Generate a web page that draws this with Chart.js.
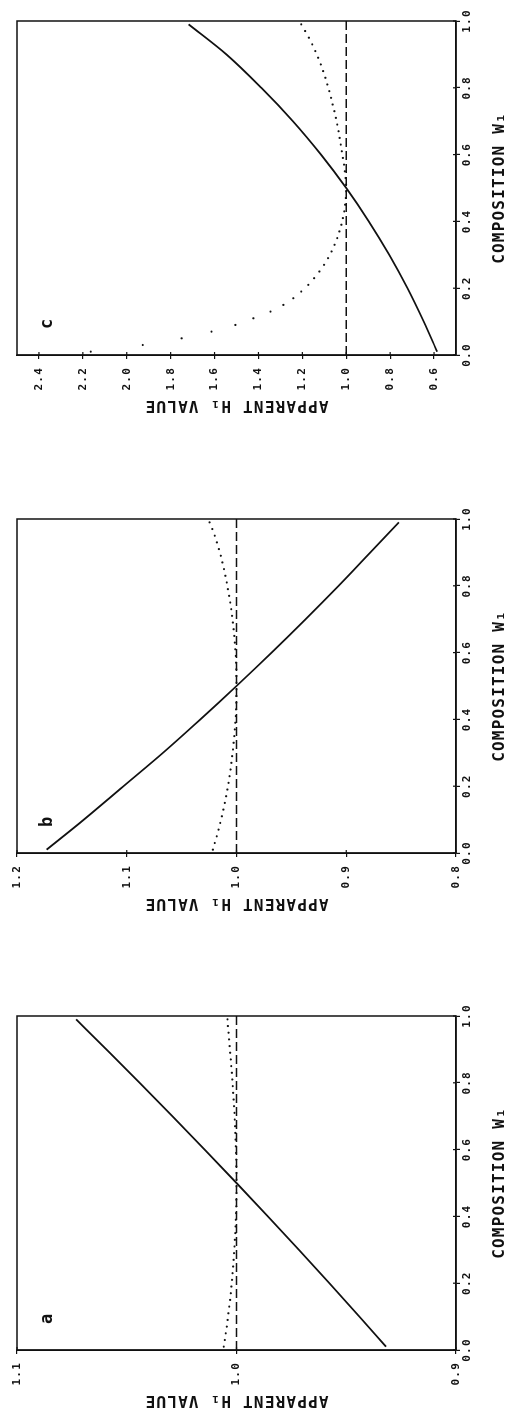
<!DOCTYPE html>
<html>
<head>
<meta charset="utf-8">
<script src="https://cdn.jsdelivr.net/npm/chart.js@4.4.1/dist/chart.umd.min.js"></script>
<style>
html,body{margin:0;padding:0;background:#fff;}
body{width:514px;height:1416px;position:relative;overflow:hidden;}
/* the figure is drawn landscape and turned a quarter left, like the scan */
#sheet{position:absolute;left:0;top:0;width:1416px;height:514px;transform-origin:0 0;transform:translateY(1416px) rotate(-90deg);}
.panel{position:absolute;top:0;width:416px;height:514px;}
</style>
</head>
<body>
<div id="sheet">
  <div class="panel" style="left:0px"><canvas id="chartA" width="416" height="514"></canvas></div>
  <div class="panel" style="left:497px"><canvas id="chartB" width="416" height="514"></canvas></div>
  <div class="panel" style="left:995px"><canvas id="chartC" width="416" height="514"></canvas></div>
</div>
<script>
// composition axis
const compTicks=[0,0.2,0.4,0.6,0.8,1.0];
const compSolid=[0.01,0.1,0.2,0.3,0.4,0.5,0.6,0.7,0.8,0.9,0.99];
const compDots=[0.01,0.03,0.05,0.07,0.09,0.11,0.13,0.15,0.17,0.19,0.21,0.23,0.25,0.27,0.29,0.31,0.33,0.35,0.37,0.39,0.41,0.43,0.45,0.47,0.49,
  0.51,0.53,0.55,0.57,0.59,0.61,0.63,0.65,0.67,0.69,0.71,0.73,0.75,0.77,0.79,0.81,0.83,0.85,0.87,0.89,0.91,0.93,0.95,0.97,0.99];
const compDash=[0,1];
const trueH=[1.0,1.0];

// panel a
const ticksA=[0.9,1.0,1.1];
const solidA=[0.9319,0.9440,0.9577,0.9716,0.9857,1.0000,1.0145,1.0292,1.0441,1.0593,1.0731];
const dotsA=[1.0058,1.0053,1.0049,1.0044,1.0040,1.0037,1.0033,1.0029,1.0026,1.0023,1.0020,1.0018,1.0015,1.0013,1.0011,1.0009,1.0007,1.0005,1.0004,1.0003,1.0002,1.0001,1.0001,1.0000,1.0000,
  1.0000,1.0000,1.0001,1.0001,1.0002,1.0003,1.0004,1.0005,1.0006,1.0008,1.0009,1.0011,1.0013,1.0015,1.0017,1.0019,1.0021,1.0024,1.0026,1.0029,1.0031,1.0034,1.0036,1.0039,1.0041];

// panel b
const ticksB=[0.8,0.9,1.0,1.1,1.2];
const solidB=[1.173,1.139,1.103,1.067,1.033,1.000,0.968,0.937,0.907,0.878,0.852];
const dotsB=[1.0215,1.0198,1.0180,1.0163,1.0148,1.0133,1.0119,1.0106,1.0094,1.0083,1.0072,1.0063,1.0054,1.0046,1.0039,1.0032,1.0026,1.0020,1.0015,1.0011,1.0007,1.0004,1.0002,1.0001,1.0000,
  1.0000,1.0001,1.0002,1.0004,1.0007,1.0011,1.0015,1.0020,1.0026,1.0033,1.0040,1.0048,1.0057,1.0067,1.0078,1.0089,1.0101,1.0114,1.0128,1.0143,1.0160,1.0178,1.0198,1.0220,1.0245];

// panel c
const ticksC=[0.6,0.8,1.0,1.2,1.4,1.6,1.8,2.0,2.2,2.4];
const solidC=[0.586,0.647,0.721,0.804,0.897,1.000,1.115,1.243,1.387,1.546,1.718];
const dotsC=[2.164,1.927,1.750,1.614,1.505,1.423,1.345,1.286,1.241,1.205,1.173,1.146,1.122,1.101,1.083,1.067,1.053,1.041,1.031,1.022,1.015,1.009,1.005,1.002,1.000,
  1.001,1.003,1.006,1.010,1.015,1.020,1.025,1.030,1.035,1.041,1.047,1.054,1.062,1.069,1.077,1.086,1.095,1.105,1.116,1.128,1.141,1.155,1.170,1.187,1.205];

const ink='#111';
const mono='"DejaVu Sans Mono", "Liberation Mono", monospace';

function pts(xs,ys){ return xs.map((x,i)=>({x:x,y:ys[i]})); }

// closed box plus small inward tick marks
const framePlugin={
  id:'frame',
  beforeDraw(chart){ chart.ctx.letterSpacing='1.2px'; },
  afterDraw(chart){
    const {ctx,chartArea:a,scales}=chart;
    ctx.save();
    ctx.strokeStyle=ink; ctx.lineWidth=1.5;
    ctx.strokeRect(a.left,a.top,a.right-a.left,a.bottom-a.top);
    ctx.lineWidth=1.2;
    scales.x.ticks.forEach(t=>{ const px=scales.x.getPixelForValue(t.value);
      ctx.beginPath(); ctx.moveTo(px,a.bottom); ctx.lineTo(px,a.bottom-3); ctx.stroke(); });
    scales.y.ticks.forEach(t=>{ const py=scales.y.getPixelForValue(t.value);
      ctx.beginPath(); ctx.moveTo(a.left,py); ctx.lineTo(a.left+3,py); ctx.stroke(); });
    // panel letter
    ctx.letterSpacing='0px';
    ctx.fillStyle=ink; ctx.font='bold 17px '+mono;
    ctx.textAlign='center'; ctx.textBaseline='middle';
    ctx.fillText(chart.options.plugins.frame.letter,a.left+31,a.top+31);
    ctx.restore();
  }
};

function makeChart(id,letter,yMin,yMax,yTicks,solid,dots){
  new Chart(document.getElementById(id),{
    type:'scatter',
    data:{datasets:[
      {data:pts(compDash,trueH),showLine:true,borderColor:ink,borderWidth:1.6,borderDash:[9,4],pointRadius:0},
      {data:pts(compSolid,solid),showLine:true,borderColor:ink,borderWidth:1.8,pointRadius:0,cubicInterpolationMode:'monotone'},
      {data:pts(compDots,dots),showLine:false,pointRadius:1.1,pointBackgroundColor:ink,pointBorderWidth:0}
    ]},
    options:{
      responsive:false,animation:false,devicePixelRatio:1,
      layout:{padding:{top:17,right:16,left:0,bottom:0}},
      plugins:{legend:{display:false},tooltip:{enabled:false},frame:{letter:letter}},
      scales:{
        x:{type:'linear',position:'bottom',min:0,max:1,
          afterBuildTicks:s=>{s.ticks=compTicks.map(v=>({value:v}));},
          afterFit:s=>{s.height=58;},
          ticks:{color:ink,padding:1,maxRotation:0,minRotation:0,font:{family:mono,size:11,weight:'bold'},callback:v=>v.toFixed(1)},
          grid:{drawOnChartArea:false,tickLength:4,color:ink,lineWidth:1.2},
          border:{display:true,color:ink,width:1.5},
          title:{display:true,text:'COMPOSITION W₁',color:ink,font:{family:mono,size:16,weight:'bold'},padding:{top:0,bottom:5}}},
        y:{type:'linear',position:'left',min:yMin,max:yMax,
          afterBuildTicks:s=>{s.ticks=yTicks.map(v=>({value:v}));},
          afterFit:s=>{s.width=66;},
          ticks:{color:ink,padding:8,font:{family:mono,size:11,weight:'bold'},callback:v=>v.toFixed(1)},
          grid:{drawOnChartArea:false,tickLength:4,color:ink,lineWidth:1.2},
          border:{display:true,color:ink,width:1.5},
          title:{display:true,text:'APPARENT H₁ VALUE',color:ink,font:{family:mono,size:16,weight:'bold'},padding:{top:6,bottom:0}}}
      }
    },
    plugins:[framePlugin]
  });
}

makeChart('chartA','a',0.9,1.1,ticksA,solidA,dotsA);
makeChart('chartB','b',0.8,1.2,ticksB,solidB,dotsB);
makeChart('chartC','c',0.5,2.5,ticksC,solidC,dotsC);
</script>
</body>
</html>
